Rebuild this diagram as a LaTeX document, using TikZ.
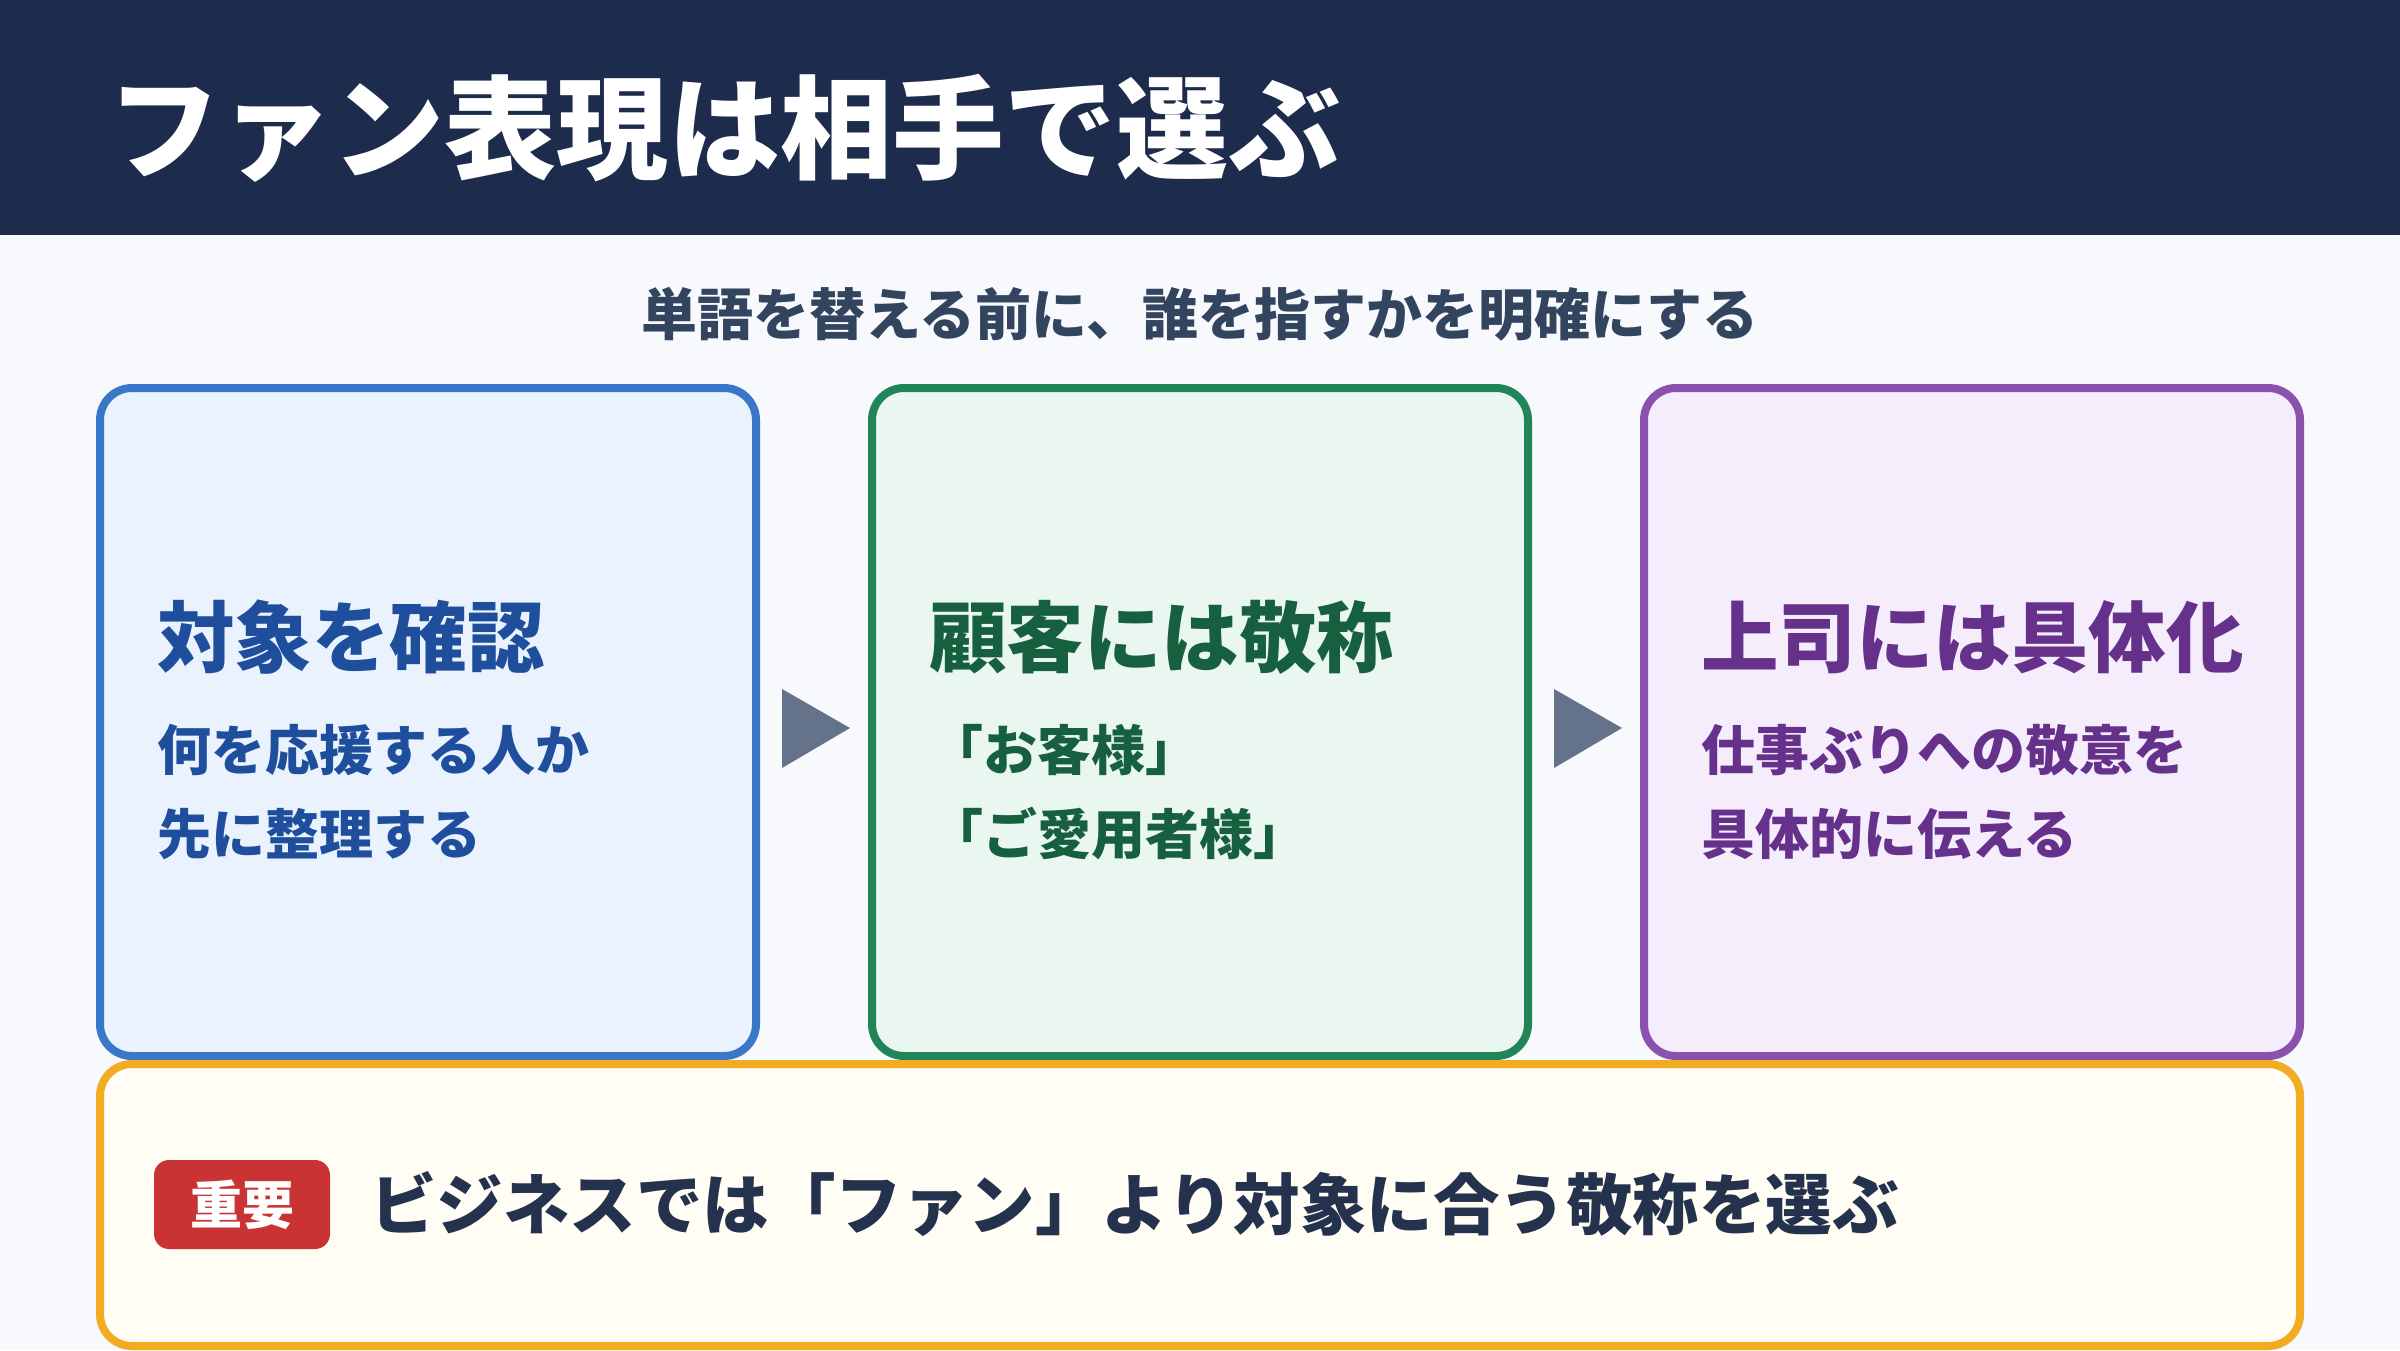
\documentclass[tikz,border=0pt]{standalone}
\usepackage{fontspec}
\newfontfamily\jp{Noto Sans CJK JP}
\usetikzlibrary{positioning}
\definecolor{navy}{HTML}{1D2B4C}
\definecolor{paper}{HTML}{F7F9FD}
\definecolor{subgray}{HTML}{33445E}
\definecolor{arrowgray}{HTML}{647389}
\definecolor{blueline}{HTML}{3A77C9}
\definecolor{bluefill}{HTML}{EAF2FE}
\definecolor{bluetext}{HTML}{1F4F9C}
\definecolor{greenline}{HTML}{22855A}
\definecolor{greenfill}{HTML}{EAF7F0}
\definecolor{greentext}{HTML}{17603F}
\definecolor{purpleline}{HTML}{8A52AC}
\definecolor{purplefill}{HTML}{F5EDFC}
\definecolor{purpletext}{HTML}{65318A}
\definecolor{noteline}{HTML}{F1AC22}
\definecolor{notefill}{HTML}{FFFDF4}
\definecolor{notetext}{HTML}{24324E}
\definecolor{badgered}{HTML}{C93334}
\tikzset{card/.style={rectangle,rounded corners=32pt,line width=8pt,inner sep=0pt,outer sep=0pt,
		minimum width=656pt,minimum height=668pt},
	 headline/.style={anchor=west,inner sep=0pt,text=white,font=\jp\bfseries\fontsize{112}{112}\selectfont},
	 subline/.style={inner sep=0pt,text=subgray,font=\jp\bfseries\fontsize{56}{56}\selectfont},
	 cardhead/.style={anchor=west,inner sep=0pt,font=\jp\bfseries\fontsize{77.5}{77.5}\selectfont},
	 cardtext/.style={anchor=west,inner sep=0pt,font=\jp\bfseries\fontsize{54}{54}\selectfont},
	 badge/.style={rectangle,rounded corners=15pt,fill=badgered,text=white,inner sep=0pt,
		minimum width=176pt,minimum height=89pt,font=\jp\bfseries\fontsize{52}{52}\selectfont},
	 notetext/.style={inner sep=0pt,text=notetext,font=\jp\bfseries\fontsize{66.5}{66.5}\selectfont}
	 }
\begin{document}
\begin{tikzpicture}[x=1pt,y=-1pt] % fan wording depends on who is meant
	\useasboundingbox (0,0) rectangle (2400,1350);
	\fill[paper] (0,0) rectangle (2400,1350);
	\fill[navy] (0,0) rectangle (2400,235);
	\node[headline] (title) at (108,128) {ファン表現は相手で選ぶ};
	\node[subline] (sub) at (1200,314) {単語を替える前に、誰を指すかを明確にする};
	\node[card,draw=blueline,fill=bluefill] (c1) at (428,722) {};
	\node[card,draw=greenline,fill=greenfill] (c2) [right=116pt of c1] {};
	\node[card,draw=purpleline,fill=purplefill] (c3) [right=116pt of c2] {};
	\node[cardhead,text=bluetext] (h1) at ([shift={(57pt,-249pt)}]c1.north west) {対象を確認};
	\node[cardtext,text=bluetext] (t1a) at ([shift={(57pt,-362pt)}]c1.north west) {何を応援する人か};
	\node[cardtext,text=bluetext] (t1b) at ([yshift=-84pt]t1a.west) {先に整理する};
	\node[cardhead,text=greentext] (h2) at ([shift={(57pt,-249pt)}]c2.north west) {顧客には敬称};
	\node[cardtext,text=greentext] (t2a) at ([shift={(57pt,-362pt)}]c2.north west) {「お客様」};
	\node[cardtext,text=greentext] (t2b) at ([yshift=-84pt]t2a.west) {「ご愛用者様」};
	\node[cardhead,text=purpletext] (h3) at ([shift={(57pt,-249pt)}]c3.north west) {上司には具体化};
	\node[cardtext,text=purpletext] (t3a) at ([shift={(57pt,-362pt)}]c3.north west) {仕事ぶりへの敬意を};
	\node[cardtext,text=purpletext] (t3b) at ([yshift=-84pt]t3a.west) {具体的に伝える};
	\coordinate[right=60pt of c1.east] (m1);
	\coordinate[right=60pt of c2.east] (m2);
	\fill[arrowgray] ([shift={(-34pt,33pt)}]m1) -- ([shift={(34pt,-6pt)}]m1) -- ([shift={(-34pt,-46pt)}]m1) -- cycle;
	\fill[arrowgray] ([shift={(-34pt,33pt)}]m2) -- ([shift={(34pt,-6pt)}]m2) -- ([shift={(-34pt,-46pt)}]m2) -- cycle;
	\node[card,draw=noteline,fill=notefill,minimum width=2200pt,minimum height=282pt] (note) at (1200,1205) {};
	\node[badge] (tag) at (242,1204.5) {重要};
	\node[notetext] (msg) [right=40pt of tag] {ビジネスでは「ファン」より対象に合う敬称を選ぶ};
\end{tikzpicture}
\end{document}
